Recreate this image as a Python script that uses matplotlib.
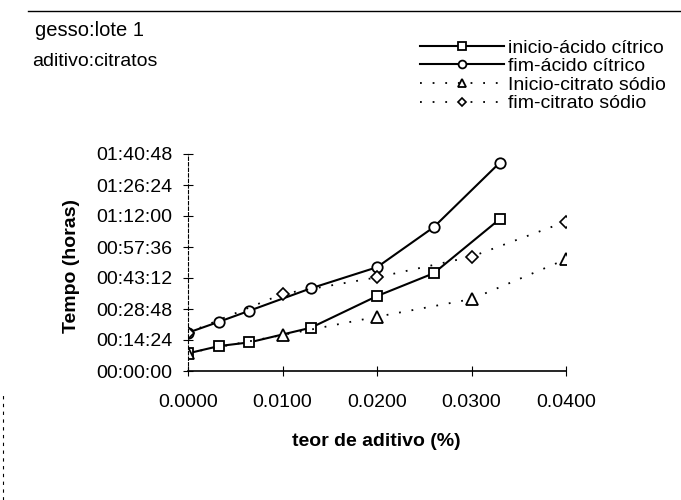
import numpy as np
import matplotlib
matplotlib.use('Agg')
import matplotlib.pyplot as plt
from matplotlib.ticker import FuncFormatter
from matplotlib.lines import Line2D

plt.rcParams['font.family'] = ['Liberation Sans', 'DejaVu Sans']

# teor de aditivo (%)
x_acido = [0.0, 0.0033, 0.0065, 0.013, 0.020, 0.026, 0.033]
x_citrato = [0.0, 0.010, 0.020, 0.030, 0.040]

# tempos em minutos
inicio_acido = [8.2, 11.6, 13.3, 20.1, 34.8, 45.4, 70.6]
fim_acido = [17.8, 22.9, 28.0, 38.4, 48.2, 66.8, 96.8]
inicio_citrato = [8.4, 16.7, 25.2, 33.4, 51.9]
fim_citrato = [17.8, 35.8, 43.5, 53.1, 69.4]

x_ticks = [0.0, 0.01, 0.02, 0.03, 0.04]
y_ticks = [0, 14.4, 28.8, 43.2, 57.6, 72.0, 86.4, 100.8]

legendas = ['inicio-ácido cítrico', 'fim-ácido cítrico',
            'Inicio-citrato sódio', 'fim-citrato sódio']


def hms(v, pos):
    s = int(round(v * 60))
    return '%02d:%02d:%02d' % (s // 3600, (s % 3600) // 60, s % 60)


W, H = 681, 500
fig = plt.figure(figsize=(W / 100, H / 100), dpi=100)
ax = fig.add_axes([188 / W, 1 - 371 / H, (566 - 188) / W, (371 - 154) / H])

pontilhado = (0, (1, 6))
l1, = ax.plot(x_acido, inicio_acido, color='black', lw=1.5, marker='s', ms=7.5,
              mfc='white', mec='black', mew=1.3)
l2, = ax.plot(x_acido, fim_acido, color='black', lw=1.5, marker='o', ms=7.5,
              mfc='white', mec='black', mew=1.3)
l3, = ax.plot(x_citrato, inicio_citrato, color='black', lw=1.3, ls=pontilhado,
              marker='^', ms=8, mfc='white', mec='black', mew=1.3)
l4, = ax.plot(x_citrato, fim_citrato, color='black', lw=1.3, ls=pontilhado,
              marker='D', ms=6, mfc='white', mec='black', mew=1.2)

ax.set_xlim(0, 0.04)
ax.set_ylim(0, 100.8)
ax.set_xticks(x_ticks)
ax.set_xticklabels(['%.4f' % v for v in x_ticks])
ax.set_yticks(y_ticks)
ax.yaxis.set_major_formatter(FuncFormatter(hms))

for side in ['top', 'right']:
    ax.spines[side].set_visible(False)
ax.spines['bottom'].set_linewidth(1.2)
ax.spines['left'].set_linewidth(0.8)
ax.spines['left'].set_linestyle((0, (3, 2)))

ax.tick_params(axis='both', direction='inout', length=7, width=0.8,
               labelsize=14)
ax.tick_params(axis='y', pad=8)
ax.tick_params(axis='x', pad=13)

fig.text(376 / W, 1 - 442 / H, 'teor de aditivo (%)', fontsize=14,
         fontweight='bold', ha='center', va='center')
fig.text(72 / W, 1 - 266 / H, 'Tempo (horas)', fontsize=14,
         fontweight='bold', ha='center', va='center', rotation=90)

fig.text(35 / W, 1 - 30 / H, 'gesso:lote 1', fontsize=14.5, va='center')
fig.text(32 / W, 1 - 62 / H, 'aditivo:citratos', fontsize=14, va='center')

fig.legend([l1, l2, l3, l4], legendas, loc='upper left',
           bbox_to_anchor=(420 / W, 1 - 39 / H), frameon=False,
           borderpad=0, borderaxespad=0, handlelength=4.3,
           handletextpad=0.2, labelspacing=0.05, numpoints=1, fontsize=14,
           markerscale=0.75)

# bordas da folha digitalizada
fig.add_artist(Line2D([28 / W, 1], [1 - 11 / H, 1 - 11 / H], color='black',
                      lw=1.0, transform=fig.transFigure))
fig.add_artist(Line2D([3 / W, 3 / W], [0, 1 - 395 / H], color='black',
                      lw=0.8, ls=(0, (3, 4)), transform=fig.transFigure))

fig.savefig('out.png', dpi=100)
